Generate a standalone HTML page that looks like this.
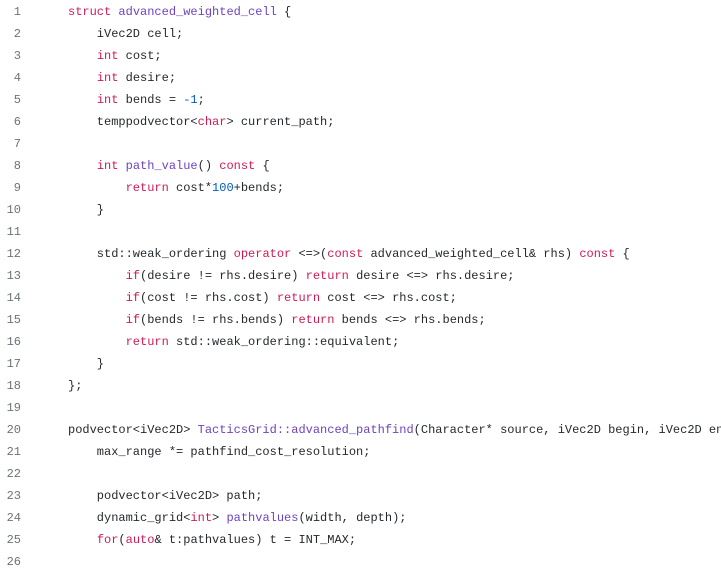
<!DOCTYPE html>
<html><head><meta charset="utf-8"><style>
html,body{margin:0;padding:0;background:#fff;width:721px;height:578px;overflow:hidden}
.w{position:absolute;top:1px;left:0;font-family:"Liberation Mono",monospace;font-size:12px;line-height:22px;color:#24292e}
.l{display:block;height:22px;white-space:pre}
.n{display:inline-block;width:21px;text-align:right;color:#6a737d;margin-right:47px}
.k{color:#d01a55}.f{color:#6f42c1}.c{color:#005cc5}
</style></head><body><div class="w"><span class="l"><span class="n">1</span><span class="k">struct</span> <span class="f">advanced_weighted_cell</span> {</span><span class="l"><span class="n">2</span>    iVec2D cell;</span><span class="l"><span class="n">3</span>    <span class="k">int</span> cost;</span><span class="l"><span class="n">4</span>    <span class="k">int</span> desire;</span><span class="l"><span class="n">5</span>    <span class="k">int</span> bends = <span class="c">-1</span>;</span><span class="l"><span class="n">6</span>    temppodvector&lt;<span class="k">char</span>&gt; current_path;</span><span class="l"><span class="n">7</span></span><span class="l"><span class="n">8</span>    <span class="k">int</span> <span class="f">path_value</span>() <span class="k">const</span> {</span><span class="l"><span class="n">9</span>        <span class="k">return</span> cost*<span class="c">100</span>+bends;</span><span class="l"><span class="n">10</span>    }</span><span class="l"><span class="n">11</span></span><span class="l"><span class="n">12</span>    std::weak_ordering <span class="k">operator</span> &lt;=&gt;(<span class="k">const</span> advanced_weighted_cell&amp; rhs) <span class="k">const</span> {</span><span class="l"><span class="n">13</span>        <span class="k">if</span>(desire != rhs.desire) <span class="k">return</span> desire &lt;=&gt; rhs.desire;</span><span class="l"><span class="n">14</span>        <span class="k">if</span>(cost != rhs.cost) <span class="k">return</span> cost &lt;=&gt; rhs.cost;</span><span class="l"><span class="n">15</span>        <span class="k">if</span>(bends != rhs.bends) <span class="k">return</span> bends &lt;=&gt; rhs.bends;</span><span class="l"><span class="n">16</span>        <span class="k">return</span> std::weak_ordering::equivalent;</span><span class="l"><span class="n">17</span>    }</span><span class="l"><span class="n">18</span>};</span><span class="l"><span class="n">19</span></span><span class="l"><span class="n">20</span>podvector&lt;iVec2D&gt; <span class="f">TacticsGrid::advanced_pathfind</span>(Character* source, iVec2D begin, iVec2D end</span><span class="l"><span class="n">21</span>    max_range *= pathfind_cost_resolution;</span><span class="l"><span class="n">22</span></span><span class="l"><span class="n">23</span>    podvector&lt;iVec2D&gt; path;</span><span class="l"><span class="n">24</span>    dynamic_grid&lt;<span class="k">int</span>&gt; <span class="f">pathvalues</span>(width, depth);</span><span class="l"><span class="n">25</span>    <span class="k">for</span>(<span class="k">auto</span>&amp; t:pathvalues) t = INT_MAX;</span><span class="l"><span class="n">26</span></span></div></body></html>
